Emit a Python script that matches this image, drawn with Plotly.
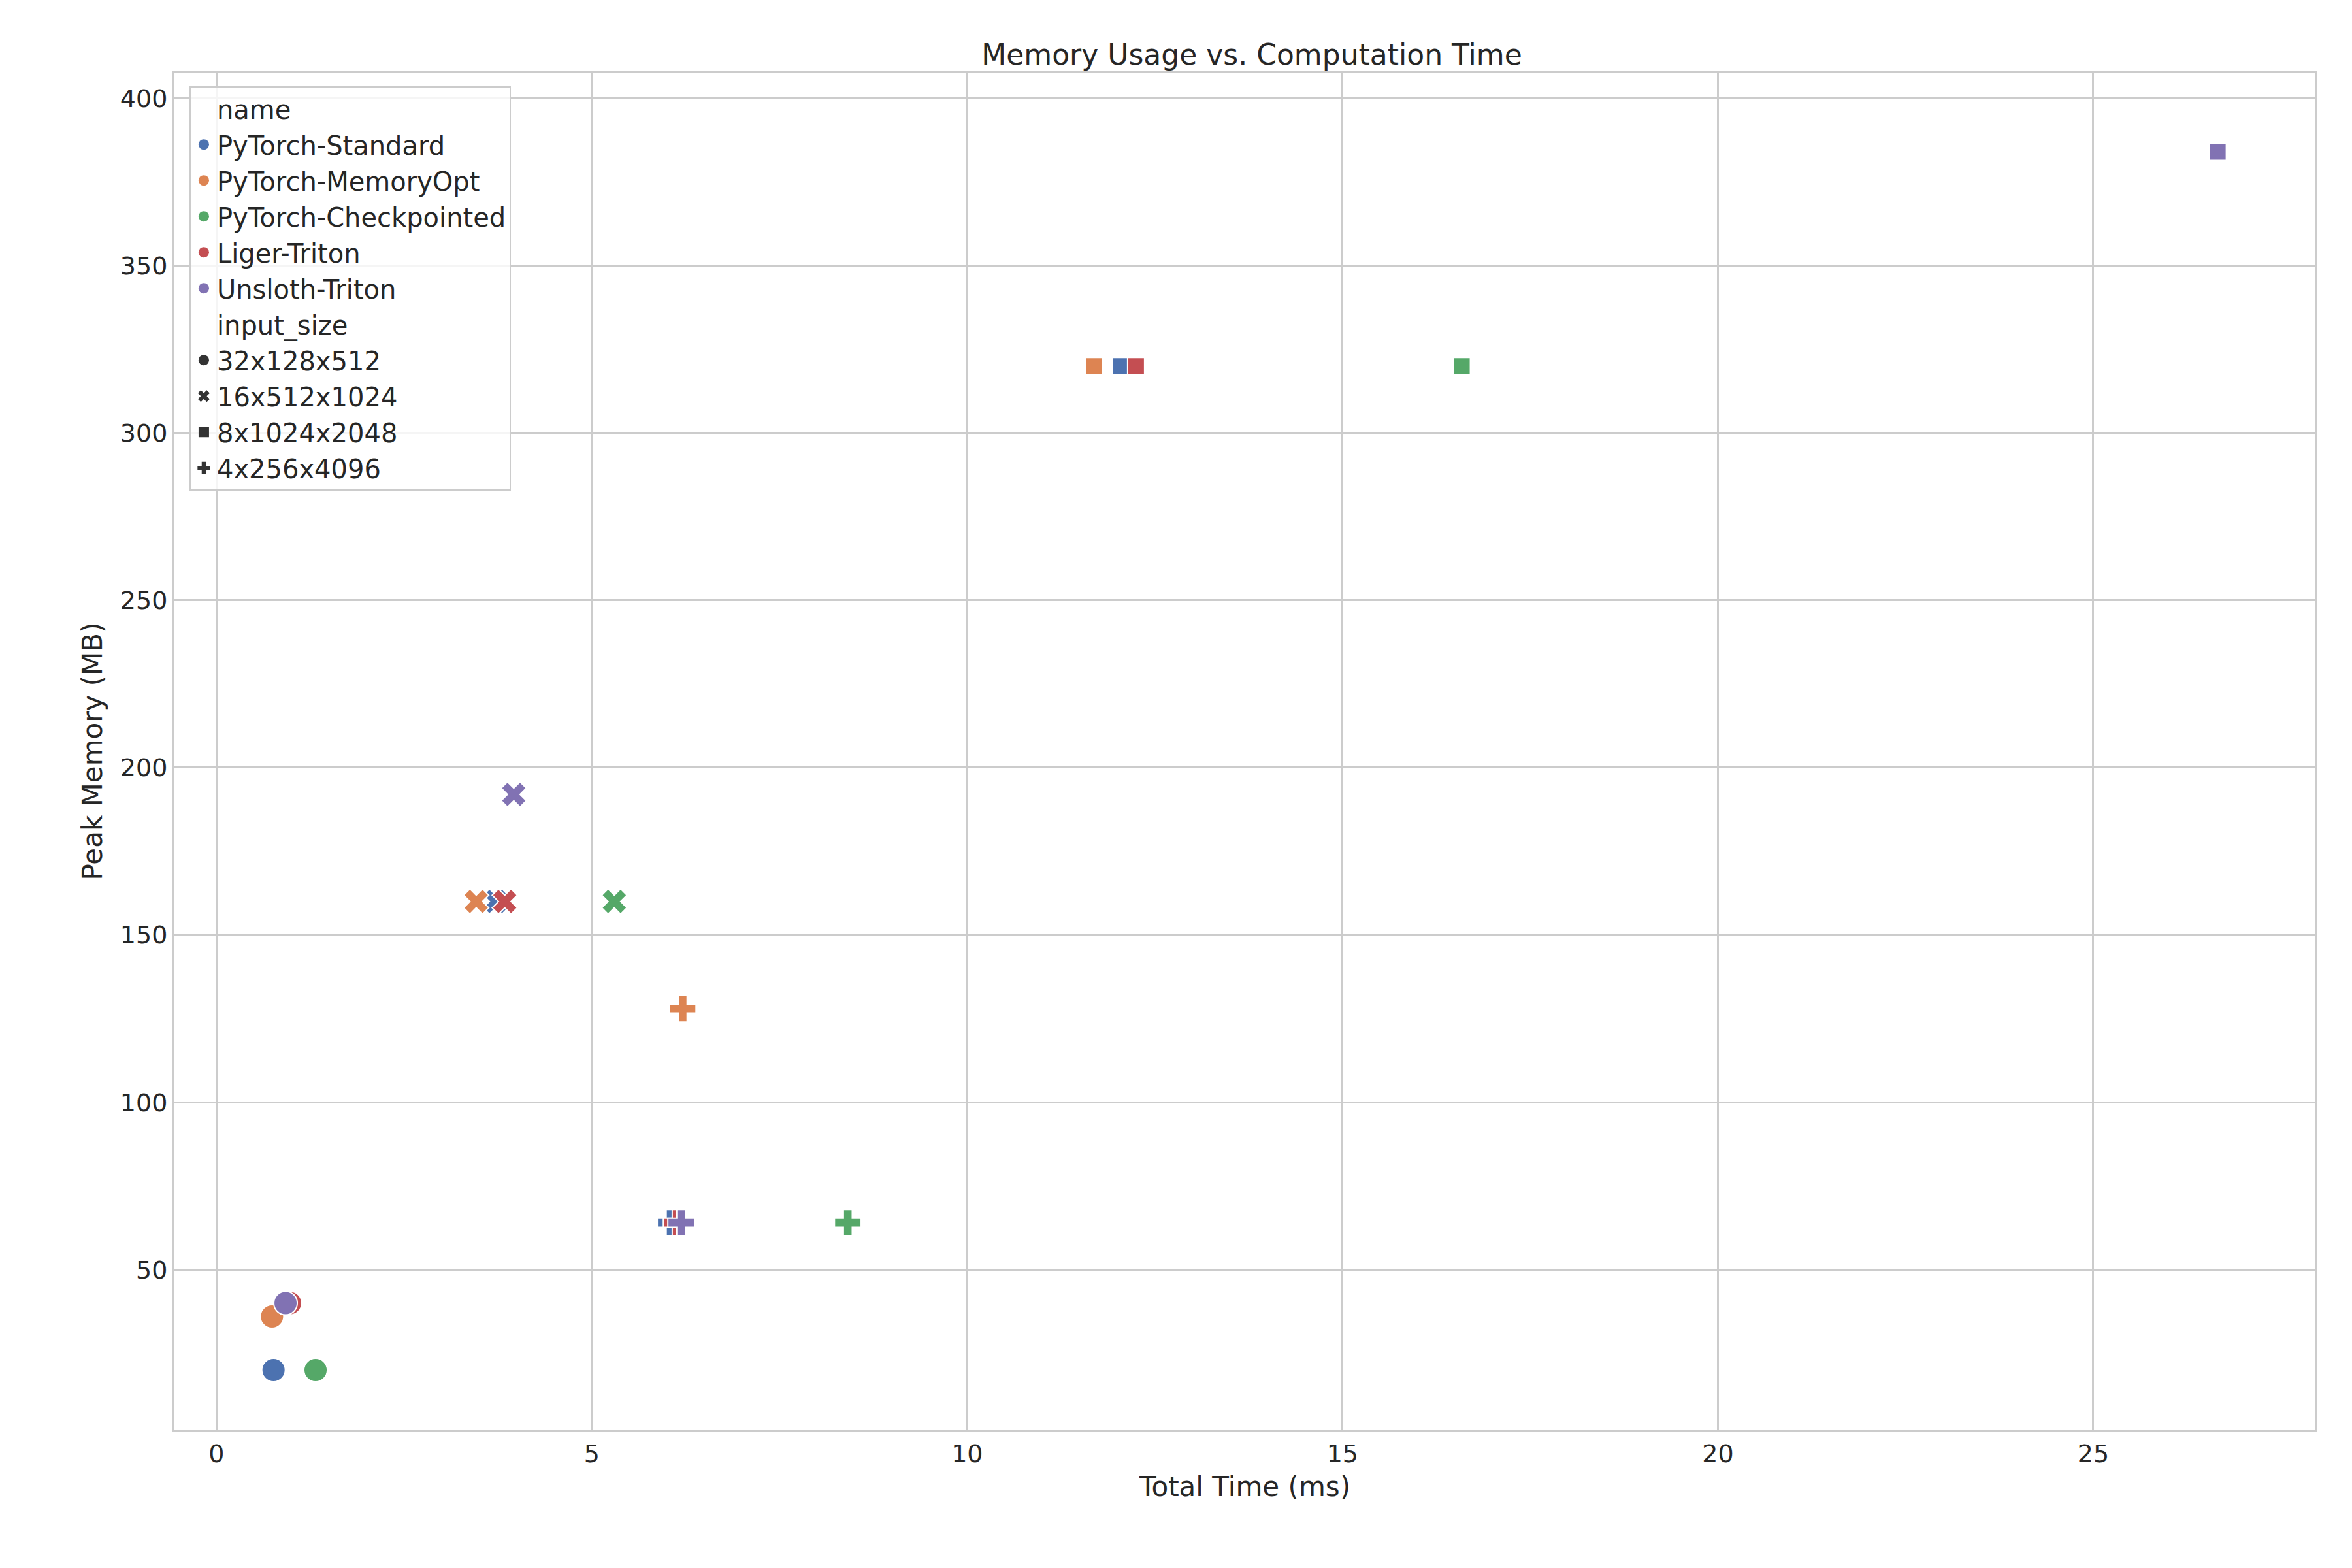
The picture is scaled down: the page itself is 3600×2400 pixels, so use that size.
import plotly.graph_objects as go

names = ["PyTorch-Standard", "PyTorch-MemoryOpt", "PyTorch-Checkpointed", "Liger-Triton", "Unsloth-Triton"]
colors = ["#4c72b0", "#dd8452", "#55a868", "#c44e52", "#8172b3"]
sizes = ["32x128x512", "16x512x1024", "8x1024x2048", "4x256x4096"]
symbols = ["circle", "x", "square", "cross"]
msizes = [36, 34, 26, 34]

# total time (ms) per name, per input size
times = {
    "PyTorch-Standard":     [0.76, 3.72, 12.05, 6.05],
    "PyTorch-MemoryOpt":    [0.74, 3.46, 11.69, 6.21],
    "PyTorch-Checkpointed": [1.32, 5.30, 16.59, 8.41],
    "Liger-Triton":         [0.98, 3.84, 12.25, 6.13],
    "Unsloth-Triton":       [0.92, 3.96, 26.66, 6.19],
}
# peak memory (MB)
mems = {
    "PyTorch-Standard":     [20, 160, 320, 64],
    "PyTorch-MemoryOpt":    [36, 160, 320, 128],
    "PyTorch-Checkpointed": [20, 160, 320, 64],
    "Liger-Triton":         [40, 160, 320, 64],
    "Unsloth-Triton":       [40, 192, 384, 64],
}

fig = go.Figure()
for n, c in zip(names, colors):
    fig.add_trace(go.Scatter(
        x=times[n], y=mems[n], mode="markers", showlegend=False,
        marker=dict(color=c, symbol=symbols, size=msizes, opacity=1,
                    line=dict(color="white", width=2))))

def leg(name, color, symbol, size, visible=True):
    fig.add_trace(go.Scatter(
        x=[None], y=[None], mode="markers", name=name,
        marker=dict(color=color if visible else "rgba(0,0,0,0)", symbol=symbol, size=size,
                    opacity=1, line=dict(width=0))))

leg("name", "white", "circle", 1, visible=False)
for n, c in zip(names, colors):
    leg(n, c, "circle", 30)
leg("input_size", "white", "circle", 1, visible=False)
for s, sym, ms in zip(sizes, symbols, [30, 30, 22, 30]):
    leg(s, "#333333", sym, ms)

ax = dict(showgrid=True, gridcolor="#cccccc", gridwidth=3, zeroline=False,
          showline=True, linecolor="#cccccc", linewidth=3, mirror=True,
          ticks="", tickfont=dict(size=38, color="#262626"),
          title_font=dict(size=42, color="#262626"))

fig.update_layout(
    width=3600, height=2400, paper_bgcolor="white", plot_bgcolor="white",
    font=dict(family="DejaVu Sans", color="#262626"),
    title=dict(text="Memory Usage vs. Computation Time", x=0.53, xanchor="center",
               y=0.975, font=dict(size=44)),
    margin=dict(l=259, r=64, t=103, b=219),
    xaxis=dict(range=[-0.56, 27.96], tickvals=[0, 5, 10, 15, 20, 25],
               title_text="Total Time (ms)", **ax),
    yaxis=dict(range=[2.04, 407.7], tickvals=[50, 100, 150, 200, 250, 300, 350, 400],
               title_text="Peak Memory (MB)", **ax),
    legend=dict(x=0.007, y=0.99, xanchor="left", yanchor="top",
                bgcolor="rgba(255,255,255,0.8)", bordercolor="#cccccc", borderwidth=2,
                font=dict(size=40, color="#262626"), itemsizing="trace",
                tracegroupgap=0),
)
fig.write_html("out.html")
